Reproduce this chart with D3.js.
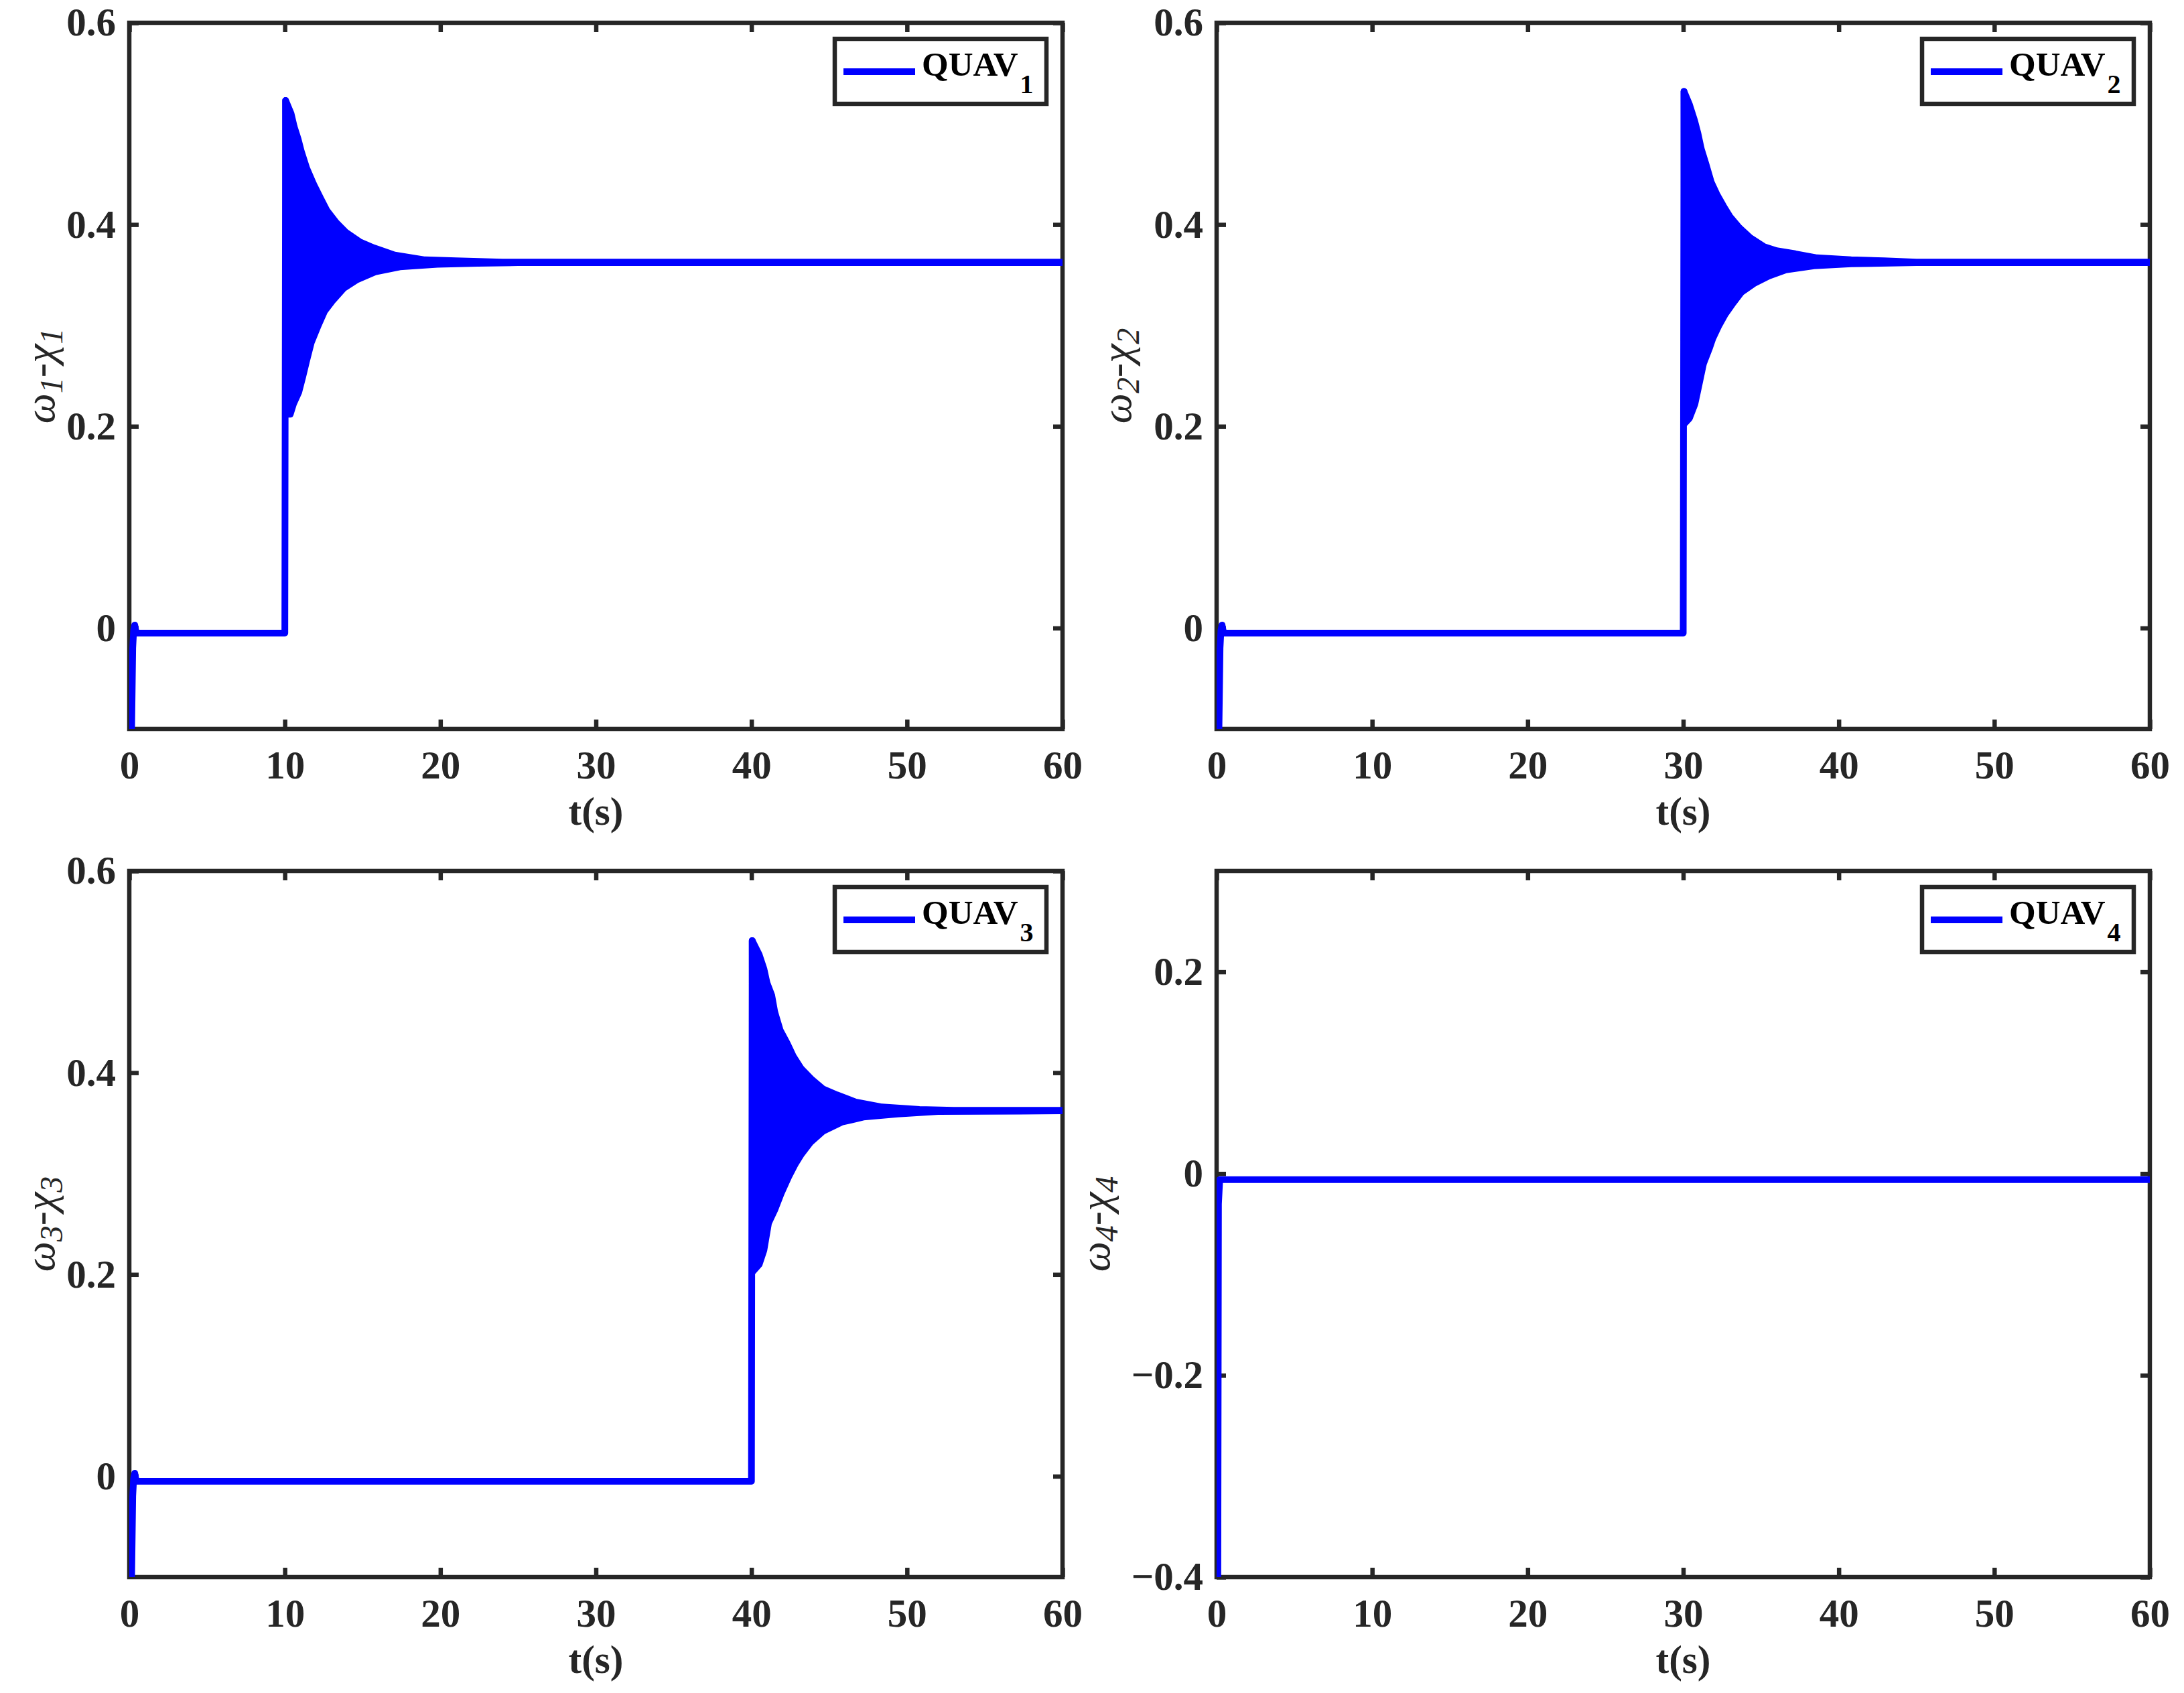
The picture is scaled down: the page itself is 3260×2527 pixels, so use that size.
<!DOCTYPE html>
<html>
<head>
<meta charset="utf-8">
<script src="https://cdn.jsdelivr.net/npm/d3@7"></script>
<style>
  body { margin: 0; background: #fff; }
</style>
</head>
<body>
<div id="chart"></div>
<script>
// ---------- data ----------
const timeTicks = [0, 10, 20, 30, 40, 50, 60];
const yTicksUp = [0, 0.2, 0.4, 0.6];
const yTicksDown = [-0.4, -0.2, 0, 0.2];
const yDomainUp = [-0.1, 0.6];
const yDomainDown = [-0.4, 0.3];
const legendNames = ["QUAV", "QUAV", "QUAV", "QUAV"];
const legendSubs = ["1", "2", "3", "4"];
const labelSubs = ["1", "2", "3", "4"];

// slow part of each signal [t, value]
const trace1 = [[0, -0.3], [0.15, -0.1], [0.22, -0.02], [0.28, -0.002], [0.35, 0.003], [0.45, -0.005], [10, -0.005], [10.05, 0.523]];
const trace2 = [[0, -0.3], [0.15, -0.1], [0.22, -0.02], [0.28, -0.002], [0.35, 0.003], [0.45, -0.005], [30, -0.005], [30.05, 0.532]];
const trace3 = [[0, -0.3], [0.15, -0.1], [0.22, -0.02], [0.28, -0.002], [0.35, 0.003], [0.45, -0.005], [40, -0.005], [40.05, 0.531]];
const trace4 = [[0, -0.7], [0.08, -0.4], [0.12, -0.03], [0.2, -0.006], [60, -0.006]];

// envelopes of the fast oscillation (upper / lower) [t, value]
const upper1 = [[10.05, 0.523], [10.4, 0.51], [10.6, 0.497], [10.85, 0.485], [11.05, 0.473], [11.4, 0.456], [11.85, 0.44], [12.3, 0.426], [12.7, 0.414], [13.3, 0.402], [13.95, 0.392], [14.8, 0.383], [15.7, 0.377], [17, 0.37], [19, 0.365], [21, 0.364], [24, 0.3628], [60, 0.3628]];
const lower1 = [[10.1, 0.212], [10.35, 0.212], [10.55, 0.222], [10.9, 0.234], [11.15, 0.249], [11.4, 0.265], [11.7, 0.283], [12.15, 0.3], [12.55, 0.314], [13.1, 0.325], [13.8, 0.337], [14.6, 0.345], [15.8, 0.353], [17.4, 0.358], [19.8, 0.3605], [22.4, 0.3615], [25, 0.3622], [60, 0.3622]];

const upper2 = [[30.05, 0.532], [30.4, 0.519], [30.73, 0.503], [30.95, 0.49], [31.16, 0.475], [31.46, 0.46], [31.8, 0.442], [32.16, 0.43], [32.6, 0.418], [33, 0.408], [33.6, 0.397], [34.3, 0.387], [35.2, 0.378], [36, 0.374], [37.2, 0.371], [38.6, 0.367], [40.8, 0.365], [42.9, 0.364], [45, 0.3628], [60, 0.3628]];
const lower2 = [[30.1, 0.203], [30.4, 0.208], [30.75, 0.222], [31, 0.24], [31.3, 0.262], [31.7, 0.278], [31.9, 0.287], [32.3, 0.3], [32.7, 0.311], [33.2, 0.322], [33.75, 0.333], [34.6, 0.342], [35.5, 0.349], [36.6, 0.355], [38.4, 0.359], [40.8, 0.361], [45, 0.3622], [60, 0.3622]];

const upper3 = [[40.05, 0.531], [40.5, 0.517], [40.8, 0.503], [41, 0.489], [41.3, 0.477], [41.5, 0.46], [41.85, 0.442], [42.3, 0.429], [42.7, 0.416], [43.2, 0.404], [43.9, 0.393], [44.6, 0.384], [45.5, 0.378], [46.7, 0.371], [48.4, 0.366], [50.8, 0.3635], [53, 0.3628], [60, 0.3628]];
const lower3 = [[40.1, 0.203], [40.5, 0.21], [40.8, 0.224], [41.1, 0.251], [41.5, 0.264], [41.9, 0.28], [42.4, 0.297], [42.8, 0.309], [43.2, 0.319], [43.8, 0.331], [44.6, 0.342], [45.8, 0.351], [47.2, 0.356], [49.4, 0.359], [52, 0.3615], [60, 0.3622]];

// ---------- layout ----------
const W = 3260, H = 2527;
const plotW = 1393, plotH = 1054;
const axisColor = "#262626";
const lineColor = "#0000ff";
const font = "'Liberation Serif', 'Times New Roman', serif";

const panels = [
  { left: 193, top: 34, yDomain: yDomainUp, yTicks: yTicksUp, trace: trace1, upper: upper1, lower: lower1, labelX: -112 },
  { left: 1816, top: 34, yDomain: yDomainUp, yTicks: yTicksUp, trace: trace2, upper: upper2, lower: lower2, labelX: -128 },
  { left: 193, top: 1300, yDomain: yDomainUp, yTicks: yTicksUp, trace: trace3, upper: upper3, lower: lower3, labelX: -112 },
  { left: 1816, top: 1300, yDomain: yDomainDown, yTicks: yTicksDown, trace: trace4, upper: null, lower: null, labelX: -160 }
];

const svg = d3.select("#chart")
  .append("svg")
  .attr("width", W)
  .attr("height", H)
  .style("background", "#fff");

const fmt = (d) => d === 0 ? "0" : (d < 0 ? "\u2212" + Math.abs(d).toFixed(1) : d.toFixed(1));

panels.forEach((p, i) => {
  const g = svg.append("g").attr("transform", `translate(${p.left}, ${p.top})`);

  const x = d3.scaleLinear().domain([0, 60]).range([0, plotW]);
  const y = d3.scaleLinear().domain(p.yDomain).range([plotH, 0]);

  g.append("clipPath").attr("id", "clip" + i)
    .append("rect").attr("width", plotW).attr("height", plotH);

  //==== axes (ticks on all 4 sides, pointing inward) ====
  const styleAxis = (sel) => {
    sel.select(".domain").remove();
    sel.selectAll(".tick line").attr("stroke", axisColor).attr("stroke-width", 6.5);
    sel.selectAll(".tick text")
      .attr("fill", axisColor)
      .style("font-family", font)
      .style("font-weight", "bold")
      .style("font-size", "59px");
  };

  g.append("g").attr("transform", `translate(0, ${plotH})`)
    .call(d3.axisBottom(x).tickValues(timeTicks).tickSizeInner(-14).tickSizeOuter(0).tickPadding(32).tickFormat(d3.format("d")))
    .call(styleAxis);
  g.append("g")
    .call(d3.axisTop(x).tickValues(timeTicks).tickSizeInner(-14).tickSizeOuter(0).tickFormat(""))
    .call(styleAxis);
  g.append("g")
    .call(d3.axisLeft(y).tickValues(p.yTicks).tickSizeInner(-14).tickSizeOuter(0).tickPadding(20).tickFormat(fmt))
    .call(styleAxis);
  g.append("g").attr("transform", `translate(${plotW}, 0)`)
    .call(d3.axisRight(y).tickValues(p.yTicks).tickSizeInner(-14).tickSizeOuter(0).tickFormat(""))
    .call(styleAxis);

  g.append("rect")
    .attr("width", plotW)
    .attr("height", plotH)
    .attr("fill", "none")
    .attr("stroke", axisColor)
    .attr("stroke-width", 6.5);

  //==== data ====
  const line = d3.line().x((d) => x(d[0])).y((d) => y(d[1]));
  const data = g.append("g").attr("clip-path", `url(#clip${i})`);

  if (p.upper) {
    const band = p.upper.concat(p.lower.slice().reverse());
    data.append("path")
      .attr("d", line(band) + "Z")
      .attr("fill", lineColor)
      .attr("stroke", lineColor)
      .attr("stroke-width", 10)
      .attr("stroke-linejoin", "round");
  }

  data.append("path")
    .attr("d", line(p.trace))
    .attr("fill", "none")
    .attr("stroke", lineColor)
    .attr("stroke-width", 10)
    .attr("stroke-linejoin", "round")
    .attr("stroke-linecap", "round");

  //==== axis labels ====
  g.append("text")
    .attr("x", plotW / 2)
    .attr("y", plotH + 143)
    .attr("text-anchor", "middle")
    .attr("fill", axisColor)
    .style("font-family", font)
    .style("font-weight", "bold")
    .style("font-size", "59px")
    .text("t(s)");

  const yl = g.append("text")
    .attr("transform", `translate(${p.labelX}, ${plotH / 2}) rotate(-90)`)
    .attr("text-anchor", "middle")
    .attr("fill", axisColor)
    .style("font-family", font)
    .style("font-style", "italic")
    .style("font-size", "64px");
  yl.append("tspan").text("\u03c9");
  yl.append("tspan").attr("dy", 12).style("font-size", "48px").text(labelSubs[i]);
  yl.append("tspan").attr("dy", -12).text("-");
  yl.append("tspan").text("\u03c7");
  yl.append("tspan").attr("dy", 12).style("font-size", "48px").text(labelSubs[i]);

  //==== legend ====
  const lx = plotW - 24 - 316, ly = 24;
  const leg = g.append("g").attr("transform", `translate(${lx}, ${ly})`);
  leg.append("rect")
    .attr("width", 316)
    .attr("height", 97)
    .attr("fill", "#fff")
    .attr("stroke", axisColor)
    .attr("stroke-width", 6.5);
  leg.append("line")
    .attr("x1", 13).attr("x2", 120)
    .attr("y1", 49).attr("y2", 49)
    .attr("stroke", lineColor)
    .attr("stroke-width", 10);
  const lt = leg.append("text")
    .attr("x", 130)
    .attr("y", 55)
    .attr("fill", "#000")
    .style("font-family", font)
    .style("font-weight", "bold")
    .style("font-size", "51px");
  lt.append("tspan").text(legendNames[i]);
  lt.append("tspan").attr("dx", 3).attr("dy", 26).style("font-size", "40px").text(legendSubs[i]);
});
</script>
</body>
</html>
